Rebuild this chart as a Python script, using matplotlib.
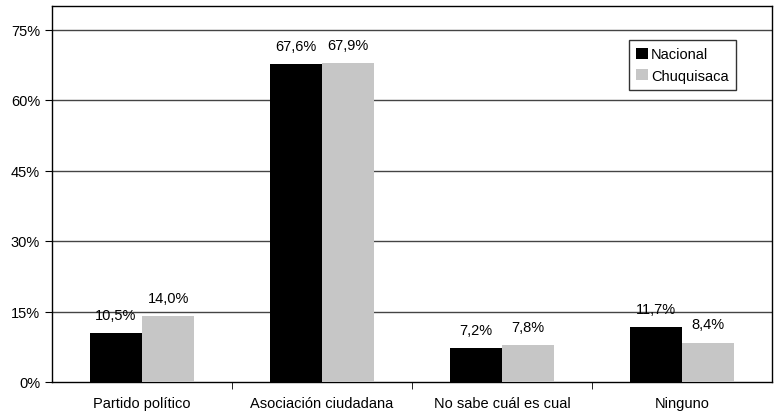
import numpy as np
import matplotlib.pyplot as plt

plt.rcParams["font.family"] = ["Liberation Sans", "DejaVu Sans"]

categories = ["Partido político", "Asociación ciudadana", "No sabe cuál es cual", "Ninguno"]
nacional = [10.5, 67.6, 7.2, 11.7]
chuquisaca = [14.0, 67.9, 7.8, 8.4]
yticks = [0, 15, 30, 45, 60, 75]


def fmt(v):
    return f"{v:.1f}%".replace(".", ",")


fig = plt.figure(figsize=(7.8, 4.14), dpi=100)
ax = fig.add_axes([52 / 780, 1 - 383 / 414, 720 / 780, 376 / 414])

x = np.arange(len(categories))
w = 0.29
b1 = ax.bar(x - w / 2, nacional, w, color="black", label="Nacional", zorder=3)
b2 = ax.bar(x + w / 2, chuquisaca, w, color="#c6c6c6", label="Chuquisaca", zorder=3)

for bars, vals in ((b1, nacional), (b2, chuquisaca)):
    for r, v in zip(bars, vals):
        ax.annotate(fmt(v), (r.get_x() + r.get_width() / 2, v), xytext=(0, 8),
                    textcoords="offset points", ha="center", va="bottom", fontsize=10.5)

ax.set_xlim(-0.5, len(categories) - 0.5)
ax.set_ylim(0, 80)
ax.set_yticks(yticks)
ax.set_yticklabels([f"{t}%" for t in yticks], fontsize=10.5)
for t in yticks[1:]:
    ax.axhline(t, color="#444444", lw=1, zorder=1)

# category labels centred, ticks on group boundaries
ax.set_xticks(x)
ax.set_xticklabels(categories, fontsize=10.5)
ax.tick_params(axis="x", length=0, pad=10)
ax.set_xticks(np.arange(0.5, len(categories) - 0.5), minor=True)
ax.tick_params(axis="x", which="minor", length=5, direction="out")
ax.tick_params(axis="y", length=5, direction="out")
for s in ax.spines.values():
    s.set_color("black")
    s.set_linewidth(1)

leg = ax.legend(loc="upper left", bbox_to_anchor=(629 / 780, 1 - 41 / 414),
                bbox_transform=fig.transFigure, borderaxespad=0, fontsize=10.5,
                frameon=True, fancybox=False, edgecolor="black", handlelength=0.8,
                handleheight=0.8, handletextpad=0.2, borderpad=0.5, labelspacing=0.5)
leg.get_frame().set_linewidth(1)

fig.savefig("out.png", dpi=100)
